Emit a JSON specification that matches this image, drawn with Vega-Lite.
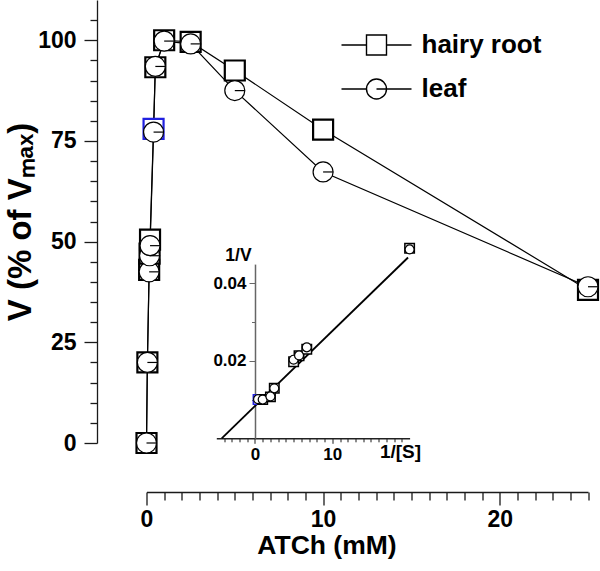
{
  "$schema": "https://vega.github.io/schema/vega-lite/v6.json",
  "width": 441.5,
  "height": 443,
  "autosize": {"type": "none"},
  "padding": {"left": 146.5, "top": 0, "right": 12, "bottom": 128},
  "config": {
    "font": "Liberation Sans",
    "view": {"stroke": null},
    "axis": {
      "grid": false,
      "labelFont": "Liberation Sans",
      "titleFont": "Liberation Sans",
      "labelFontWeight": "bold",
      "titleFontWeight": "bold",
      "domainColor": "#1a1a1a",
      "tickColor": "#1a1a1a",
      "labelColor": "black",
      "titleColor": "black",
      "labelOverlap": false,
      "labelFlush": false
    }
  },
  "datasets": {
    "main": [
      {"S": 0, "V": 0, "tissue": "hairy root"},
      {"S": 0.05, "V": 20, "tissue": "hairy root"},
      {"S": 0.15, "V": 43, "tissue": "hairy root"},
      {"S": 0.175, "V": 47, "tissue": "hairy root"},
      {"S": 0.2, "V": 50.5, "tissue": "hairy root"},
      {"S": 0.4, "V": 78, "tissue": "hairy root"},
      {"S": 0.5, "V": 93.3, "tissue": "hairy root"},
      {"S": 1, "V": 100, "tissue": "hairy root"},
      {"S": 2.5, "V": 99.6, "tissue": "hairy root"},
      {"S": 5, "V": 92.5, "tissue": "hairy root"},
      {"S": 10, "V": 77.8, "tissue": "hairy root"},
      {"S": 25, "V": 38, "tissue": "hairy root"},
      {"S": 0, "V": 0, "tissue": "leaf"},
      {"S": 0.05, "V": 20, "tissue": "leaf"},
      {"S": 0.15, "V": 42.5, "tissue": "leaf"},
      {"S": 0.175, "V": 46.5, "tissue": "leaf"},
      {"S": 0.2, "V": 49, "tissue": "leaf"},
      {"S": 0.4, "V": 77.2, "tissue": "leaf"},
      {"S": 0.5, "V": 93.5, "tissue": "leaf"},
      {"S": 1, "V": 99.8, "tissue": "leaf"},
      {"S": 2.5, "V": 99.1, "tissue": "leaf"},
      {"S": 5, "V": 87.5, "tissue": "leaf"},
      {"S": 10, "V": 67.3, "tissue": "leaf"},
      {"S": 25, "V": 38.8, "tissue": "leaf"}
    ],
    "inset": [
      {"invS": 0.4, "invV": 0.0100, "tissue": "hairy root"},
      {"invS": 1, "invV": 0.0100, "tissue": "hairy root"},
      {"invS": 2, "invV": 0.0107, "tissue": "hairy root"},
      {"invS": 2.5, "invV": 0.0129, "tissue": "hairy root"},
      {"invS": 5, "invV": 0.0198, "tissue": "hairy root"},
      {"invS": 5.7, "invV": 0.0213, "tissue": "hairy root"},
      {"invS": 6.7, "invV": 0.0230, "tissue": "hairy root"},
      {"invS": 20, "invV": 0.0491, "tissue": "hairy root"},
      {"invS": 0.4, "invV": 0.0101, "tissue": "leaf"},
      {"invS": 1, "invV": 0.0100, "tissue": "leaf"},
      {"invS": 2, "invV": 0.0108, "tissue": "leaf"},
      {"invS": 2.5, "invV": 0.0129, "tissue": "leaf"},
      {"invS": 5, "invV": 0.0203, "tissue": "leaf"},
      {"invS": 5.7, "invV": 0.0214, "tissue": "leaf"},
      {"invS": 6.7, "invV": 0.0235, "tissue": "leaf"},
      {"invS": 20, "invV": 0.0488, "tissue": "leaf"}
    ],
    "fit": [
      {"invS": -4.3, "invV": 0},
      {"invS": 19.8, "invV": 0.0467}
    ]
  },
  "layer": [
    {
      "data": {"name": "main"},
      "encoding": {
        "x": {
          "field": "S", "type": "quantitative",
          "scale": {"domain": [0, 25], "nice": false, "zero": false},
          "axis": {
            "orient": "bottom", "offset": 49,
            "values": [0,1,2,3,4,5,6,7,8,9,10,11,12,13,14,15,16,17,18,19,20,21,22,23,24,25],
            "labelExpr": "datum.value % 10 === 0 ? datum.label : ''",
            "tickSize": {"condition": {"test": "datum.value % 10 === 0", "value": 13}, "value": 8},
            "tickWidth": 1.3, "domainWidth": 1.3,
            "labelFontSize": 23, "labelPadding": 3,
            "title": "ATCh (mM)", "titleFontSize": 26.5,
            "titleX": 180, "titleY": 61, "titleAlign": "center", "titleBaseline": "alphabetic"
          }
        },
        "y": {
          "field": "V", "type": "quantitative",
          "scale": {"domain": [0, 110], "nice": false},
          "axis": {
            "orient": "left", "offset": 49.5,
            "values": [0,5,10,15,20,25,30,35,40,45,50,55,60,65,70,75,80,85,90,95,100,105],
            "labelExpr": "datum.value % 25 === 0 ? datum.label : ''",
            "tickSize": {"condition": {"test": "datum.value % 25 === 0", "value": 13}, "value": 7},
            "tickWidth": 1.3, "domainWidth": 1.3,
            "labelFontSize": 23, "labelPadding": 8,
            "title": "V (% of Vₘₐₓ)", "titleFontSize": 33, "titleAngle": 270,
            "titleX": -67, "titleY": 221.5, "titleAlign": "center", "titleBaseline": "alphabetic"
          }
        }
      },
      "layer": [
        {
          "mark": {"type": "line", "color": "black", "strokeWidth": 1.2},
          "encoding": {"detail": {"field": "tissue"}}
        },
        {
          "transform": [{"filter": "datum.tissue === 'hairy root'"}],
          "mark": {"type": "point", "shape": "square", "filled": true, "fill": "white", "size": 400, "strokeWidth": 2.2, "opacity": 1},
          "encoding": {
            "stroke": {"condition": {"test": "datum.S === 0.4", "value": "#2020e0"}, "value": "black"}
          }
        },
        {
          "transform": [{"filter": "datum.tissue === 'leaf'"}],
          "mark": {"type": "point", "shape": "circle", "filled": true, "fill": "white", "stroke": "black", "size": 400, "strokeWidth": 1.2, "opacity": 1}
        },
        {
          "transform": [{"filter": "datum.tissue === 'leaf'"}],
          "mark": {"type": "point", "shape": "M0,0L1,0", "filled": false, "stroke": "black", "size": 400, "strokeWidth": 1.2, "opacity": 1}
        },
        {
          "transform": [{"filter": "false"}],
          "mark": {"type": "point", "filled": false, "color": "black", "size": 400, "strokeWidth": 1.4, "opacity": 1},
          "encoding": {
            "shape": {
              "field": "tissue", "type": "nominal",
              "scale": {
                "domain": ["hairy root", "leaf"],
                "range": [
                  "M-3.5,0L-1,0M-1,-1L1,-1L1,1L-1,1ZM1,0L3.5,0",
                  "M-3.5,0L-1,0M1,0A1,1,0,1,1,-1,0A1,1,0,1,1,1,0M0,0L1,0M1,0L3.5,0"
                ]
              },
              "legend": {
                "orient": "none", "legendX": 217, "legendY": 32,
                "title": null, "padding": 0,
                "labelFont": "Liberation Sans", "labelFontSize": 26, "labelFontWeight": "bold", "labelColor": "black",
                "labelOffset": 32, "rowPadding": 18,
                "symbolSize": 400, "symbolStrokeWidth": 1.4, "symbolStrokeColor": "black"
              }
            }
          }
        }
      ]
    },
    {
      "encoding": {
        "x": {
          "field": "invS", "type": "quantitative",
          "scale": {"domain": [-5, 20], "range": [69.8, 263.1], "nice": false, "zero": false},
          "axis": {
            "orient": "bottom", "offset": -4.7,
            "values": [-4,-3,-2,-1,0,1,2,3,4,5,6,7,8,9,10,11,12,13,14,15,16,17,18,19],
            "labelExpr": "datum.value % 10 === 0 ? datum.label : ''",
            "tickSize": {"condition": {"test": "datum.value % 10 === 0", "value": 5}, "value": 3.5},
            "tickWidth": 1, "domainWidth": 1.5, "domainColor": "#222",
            "labelFontSize": 17, "labelPadding": 3,
            "title": "1/[S]", "titleFontSize": 19,
            "titleX": 253.5, "titleY": 18.7, "titleAlign": "center", "titleBaseline": "alphabetic"
          }
        },
        "y": {
          "field": "invV", "type": "quantitative",
          "scale": {"domain": [0, 0.045], "range": [438.3, 264.1], "nice": false},
          "axis": {
            "orient": "left", "offset": -108.5,
            "values": [0.01, 0.02, 0.03, 0.04],
            "labelExpr": "datum.value === 0.02 || datum.value === 0.04 ? format(datum.value, '.2f') : ''",
            "tickSize": {"condition": {"test": "datum.value === 0.02 || datum.value === 0.04", "value": 6}, "value": 3.5},
            "tickWidth": 1, "domainWidth": 1.5, "domainColor": "#666", "tickColor": "#666",
            "labelFontSize": 17, "labelPadding": 3,
            "title": "1/V", "titleFontSize": 17.5, "titleAngle": 0,
            "titleX": -17, "titleY": 260, "titleAlign": "center", "titleBaseline": "alphabetic"
          }
        }
      },
      "layer": [
        {
          "data": {"name": "fit"},
          "mark": {"type": "line", "color": "black", "strokeWidth": 1.8}
        },
        {
          "data": {"name": "inset"},
          "transform": [{"filter": "datum.tissue === 'hairy root'"}],
          "mark": {"type": "point", "shape": "square", "filled": true, "fill": "white", "size": 90, "strokeWidth": 1.5, "opacity": 1},
          "encoding": {
            "stroke": {"condition": {"test": "datum.invS === 0.4", "value": "#2020e0"}, "value": "black"}
          }
        },
        {
          "data": {"name": "inset"},
          "transform": [{"filter": "datum.tissue === 'leaf'"}],
          "mark": {"type": "point", "shape": "circle", "filled": true, "fill": "white", "stroke": "black", "size": 80, "strokeWidth": 1.2, "opacity": 1}
        }
      ]
    }
  ],
  "resolve": {"scale": {"x": "independent", "y": "independent"}}
}
